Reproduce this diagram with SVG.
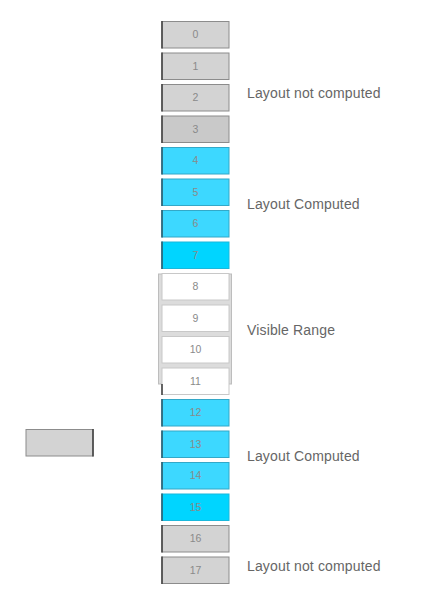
<svg xmlns="http://www.w3.org/2000/svg" width="426" height="613" viewBox="0 0 426 613">
<style>
.num{font-family:"Liberation Sans",Arial,sans-serif;font-size:10.5px;fill:#8a8a8a;text-anchor:middle}
.lbl{font-family:"Liberation Sans",Arial,sans-serif;font-size:14px;letter-spacing:0.15px;fill:#666}
.g{fill:#d3d3d3;stroke:#8c8c8c;stroke-width:1}
.g3{fill:#c9c9c9;stroke:#8c8c8c;stroke-width:1}
.c{fill:#3dd8ff;stroke:#33a8c8;stroke-width:1}
.cb{fill:#00d5ff;stroke:#19b8dc;stroke-width:1}
.w{fill:#fff;stroke:#c8c8c8;stroke-width:1}
.ld{stroke:#444;stroke-width:1.6}
.lc{stroke:#2b5d6e;stroke-width:1.6}
</style>
<g id="range-bg"><rect x="158.5" y="274" width="73" height="110" fill="#dcdcdc" stroke="#bdbdbd" stroke-width="1"/></g>
<g id="n0"><rect class="g" x="162" y="21.5" width="67" height="26.5"/><line class="ld" x1="162" y1="21" x2="162" y2="48.5"/><text class="num" x="195.5" y="38">0</text></g>
<g id="n1"><rect class="g" x="162" y="53" width="67" height="26.5"/><line class="ld" x1="162" y1="52.5" x2="162" y2="80"/><text class="num" x="195.5" y="69.5">1</text></g>
<g id="n2"><rect class="g" x="162" y="84.5" width="67" height="26.5"/><line class="ld" x1="162" y1="84" x2="162" y2="111.5"/><text class="num" x="195.5" y="101">2</text></g>
<g id="n3"><rect class="g3" x="162" y="116" width="67" height="26.5"/><line class="ld" x1="162" y1="115.5" x2="162" y2="143"/><text class="num" x="195.5" y="132.5">3</text></g>
<g id="n4"><rect class="c" x="162" y="147.5" width="67" height="26.5"/><line class="lc" x1="162" y1="147" x2="162" y2="174.5"/><text class="num" x="195.5" y="164">4</text></g>
<g id="n5"><rect class="c" x="162" y="179" width="67" height="26.5"/><line class="lc" x1="162" y1="178.5" x2="162" y2="206"/><text class="num" x="195.5" y="195.5">5</text></g>
<g id="n6"><rect class="c" x="162" y="210.5" width="67" height="26.5"/><line class="lc" x1="162" y1="210" x2="162" y2="237.5"/><text class="num" x="195.5" y="227">6</text></g>
<g id="n7"><rect class="cb" x="162" y="242" width="67" height="26.5"/><line class="lc" x1="162" y1="241.5" x2="162" y2="269"/><text class="num" x="195.5" y="258.5">7</text></g>
<g id="n8"><rect class="w" x="162" y="273.5" width="67" height="26.5"/><text class="num" x="195.5" y="290">8</text></g>
<g id="n9"><rect class="w" x="162" y="305" width="67" height="26.5"/><text class="num" x="195.5" y="321.5">9</text></g>
<g id="n10"><rect class="w" x="162" y="336.5" width="67" height="26.5"/><text class="num" x="195.5" y="353">10</text></g>
<g id="n11"><rect class="w" x="162" y="368" width="67" height="26.5"/><line class="ld" x1="162" y1="384" x2="162" y2="395"/><text class="num" x="195.5" y="384.5">11</text></g>
<g id="n12"><rect class="c" x="162" y="399.5" width="67" height="26.5"/><line class="lc" x1="162" y1="399" x2="162" y2="426.5"/><text class="num" x="195.5" y="416">12</text></g>
<g id="n13"><rect class="c" x="162" y="431" width="67" height="26.5"/><line class="lc" x1="162" y1="430.5" x2="162" y2="458"/><text class="num" x="195.5" y="447.5">13</text></g>
<g id="n14"><rect class="c" x="162" y="462.5" width="67" height="26.5"/><line class="lc" x1="162" y1="462" x2="162" y2="489.5"/><text class="num" x="195.5" y="479">14</text></g>
<g id="n15"><rect class="cb" x="162" y="494" width="67" height="26.5"/><line class="lc" x1="162" y1="493.5" x2="162" y2="521"/><text class="num" x="195.5" y="510.5">15</text></g>
<g id="n16"><rect class="g" x="162" y="525.5" width="67" height="26.5"/><line class="ld" x1="162" y1="525" x2="162" y2="552.5"/><text class="num" x="195.5" y="542">16</text></g>
<g id="n17"><rect class="g" x="162" y="557" width="67" height="26.5"/><line class="ld" x1="162" y1="556.5" x2="162" y2="584"/><text class="num" x="195.5" y="573.5">17</text></g>
<g id="side"><rect class="g" x="26" y="429.5" width="67" height="26.5"/><line class="ld" x1="93" y1="429" x2="93" y2="456.5"/></g>
<g id="labels">
<text class="lbl" x="247" y="98">Layout not computed</text>
<text class="lbl" x="247" y="209">Layout Computed</text>
<text class="lbl" x="247" y="335">Visible Range</text>
<text class="lbl" x="247" y="461">Layout Computed</text>
<text class="lbl" x="247" y="571">Layout not computed</text>
</g>
<g id="connectors"></g>
</svg>
